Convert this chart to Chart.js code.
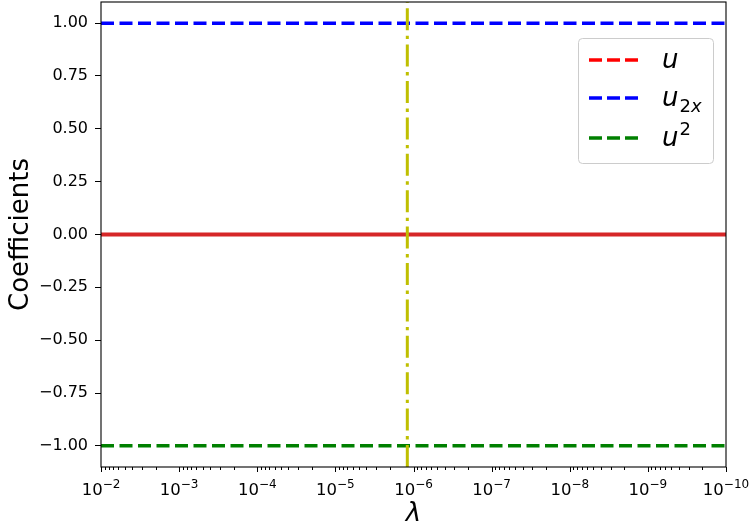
<!DOCTYPE html>
<html>
<head>
<meta charset="utf-8">
<script src="https://cdn.jsdelivr.net/npm/chart.js@4.4.1/dist/chart.umd.min.js"></script>
<style>
  html, body { margin: 0; padding: 0; background: #fff; }
  #wrap { width: 751px; height: 527px; position: relative; }
</style>
</head>
<body>
<div id="wrap"><canvas id="myChart" width="751" height="527"></canvas></div>
<script>
// data
var lambdas = [1e-2, 1e-10];
var coefU = [0, 0];
var coefU2x = [1, 1];
var coefUsq = [-1, -1];
var lambdaStar = 1.2e-6;
var yRange = [-1.1, 1.1];
var yTicks = [-1, -0.75, -0.5, -0.25, 0, 0.25, 0.5, 0.75, 1];
var xExponents = [-2, -3, -4, -5, -6, -7, -8, -9, -10];
var legendNames = [
    { base: 'u', sub: '', sup: '' },
    { base: 'u', sub: '2x', sup: '' },
    { base: 'u', sub: '', sup: '2' }
];
var legendColors = ['#ff0000', '#0000ff', '#008000'];

var FONT = "'DejaVu Sans', sans-serif";

function pts(xs, ys) {
    return xs.map(function (x, i) { return { x: x, y: ys[i] }; });
}

// frame, x ticks, x labels, legend
var mplDecor = {
    id: 'mplDecor',
    afterDraw: function (chart) {
        var c = chart.ctx;
        var a = chart.chartArea;
        var xs = chart.scales.x;
        c.save();

        // spines
        c.strokeStyle = '#000';
        c.lineWidth = 1.1;
        c.strokeRect(a.left, a.top, a.right - a.left, a.bottom - a.top);

        // x ticks (major + minor)
        c.lineWidth = 1;
        xExponents.forEach(function (e, idx) {
            var px = Math.round(xs.getPixelForValue(Math.pow(10, e))) + 0.5;
            c.beginPath();
            c.moveTo(px, a.bottom);
            c.lineTo(px, a.bottom + 5);
            c.stroke();
            if (idx < xExponents.length - 1) {
                for (var k = 2; k <= 9; k++) {
                    var mx = Math.round(xs.getPixelForValue(k * Math.pow(10, e - 1))) + 0.5;
                    c.beginPath();
                    c.moveTo(mx, a.bottom);
                    c.lineTo(mx, a.bottom + 3);
                    c.stroke();
                }
            }
        });

        // x tick labels 10^-n
        c.fillStyle = '#000';
        c.textBaseline = 'alphabetic';
        c.textAlign = 'left';
        xExponents.forEach(function (e) {
            var px = xs.getPixelForValue(Math.pow(10, e));
            var base = '10';
            var sup = '\u2212' + Math.abs(e);
            c.font = '16.5px ' + FONT;
            var wb = c.measureText(base).width;
            c.font = '12px ' + FONT;
            var ws = c.measureText(sup).width;
            var x0 = px - (wb + ws) / 2;
            c.font = '16.5px ' + FONT;
            c.fillText(base, x0, a.bottom + 28);
            c.font = '12px ' + FONT;
            c.fillText(sup, x0 + wb, a.bottom + 21);
        });

        // x title
        c.font = 'italic 26px ' + FONT;
        c.textAlign = 'center';
        c.fillText('\u03bb', (a.left + a.right) / 2, 521);

        // legend
        var lx = 578.5, ly = 38.5, lw = 135, lh = 125;
        c.beginPath();
        if (c.roundRect) c.roundRect(lx, ly, lw, lh, 4); else c.rect(lx, ly, lw, lh);
        c.fillStyle = 'rgba(255,255,255,0.8)';
        c.fill();
        c.strokeStyle = '#cccccc';
        c.lineWidth = 1;
        c.stroke();

        var rows = [60, 98, 138];
        legendNames.forEach(function (n, i) {
            var y = rows[i];
            c.strokeStyle = legendColors[i];
            c.lineWidth = 3.5;
            c.setLineDash([13, 5]);
            c.beginPath();
            c.moveTo(589, y);
            c.lineTo(639, y);
            c.stroke();
            c.setLineDash([]);

            c.fillStyle = '#000';
            c.textAlign = 'left';
            c.font = 'italic 26px ' + FONT;
            c.fillText(n.base, 662, y + 8);
            var w = c.measureText(n.base).width;
            if (n.sub) {
                c.font = '18px ' + FONT;
                c.fillText(n.sub.charAt(0), 662 + w + 1, y + 14);
                var w2 = c.measureText(n.sub.charAt(0)).width;
                c.font = 'italic 18px ' + FONT;
                c.fillText(n.sub.slice(1), 662 + w + 1 + w2, y + 14);
            }
            if (n.sup) {
                c.font = '18px ' + FONT;
                c.fillText(n.sup, 662 + w + 1, y - 3);
            }
        });

        c.restore();
    }
};

document.addEventListener('DOMContentLoaded', function () {
    var ctx = document.getElementById('myChart').getContext('2d');

    new Chart(ctx, {
        type: 'line',
        data: {
            datasets: [
                {
                    // vertical marker, on top
                    data: [{ x: lambdaStar, y: yRange[0] }, { x: lambdaStar, y: yRange[1] }],
                    borderColor: '#bfbf00',
                    borderWidth: 3,
                    borderDash: [22, 5.5, 3.4, 5.5]
                },
                {
                    data: pts(lambdas, coefU),
                    borderColor: '#d62728',
                    borderWidth: 4
                },
                {
                    data: pts(lambdas, coefU2x),
                    borderColor: '#0000ff',
                    borderWidth: 3.5,
                    borderDash: [13, 5.5]
                },
                {
                    data: pts(lambdas, coefUsq),
                    borderColor: '#008000',
                    borderWidth: 3.5,
                    borderDash: [13, 5.5]
                }
            ]
        },
        options: {
            responsive: false,
            animation: false,
            devicePixelRatio: 1,
            layout: { padding: { top: 2, right: 25, left: 0, bottom: 0 } },
            elements: { point: { radius: 0 }, line: { tension: 0 } },
            plugins: {
                legend: { display: false },
                tooltip: { enabled: false }
            },
            scales: {
                x: {
                    type: 'logarithmic',
                    min: 1e-10,
                    max: 1e-2,
                    reverse: true,
                    grid: { display: false },
                    border: { display: false },
                    ticks: { display: false },
                    afterFit: function (scale) {
                        scale.height = 60;
                        scale.paddingLeft = 0;
                        scale.paddingRight = 0;
                    }
                },
                y: {
                    type: 'linear',
                    min: yRange[0],
                    max: yRange[1],
                    afterBuildTicks: function (scale) {
                        scale.ticks = yTicks.map(function (v) { return { value: v }; });
                    },
                    afterFit: function (scale) {
                        scale.width = 101;
                        scale.paddingTop = 0;
                        scale.paddingBottom = 0;
                    },
                    grid: {
                        drawOnChartArea: false,
                        drawTicks: true,
                        tickLength: 6,
                        color: '#000',
                        lineWidth: 1
                    },
                    border: { display: false },
                    ticks: {
                        color: '#000',
                        padding: 7,
                        font: { family: FONT, size: 16 },
                        callback: function (v) {
                            var s = Math.abs(v).toFixed(2);
                            return v < 0 ? '\u2212' + s : s;
                        }
                    },
                    title: {
                        display: true,
                        text: 'Coefficients',
                        color: '#000',
                        font: { family: FONT, size: 26 },
                        padding: { top: 6, bottom: 0 }
                    }
                }
            }
        },
        plugins: [mplDecor]
    });
});
</script>
</body>
</html>
